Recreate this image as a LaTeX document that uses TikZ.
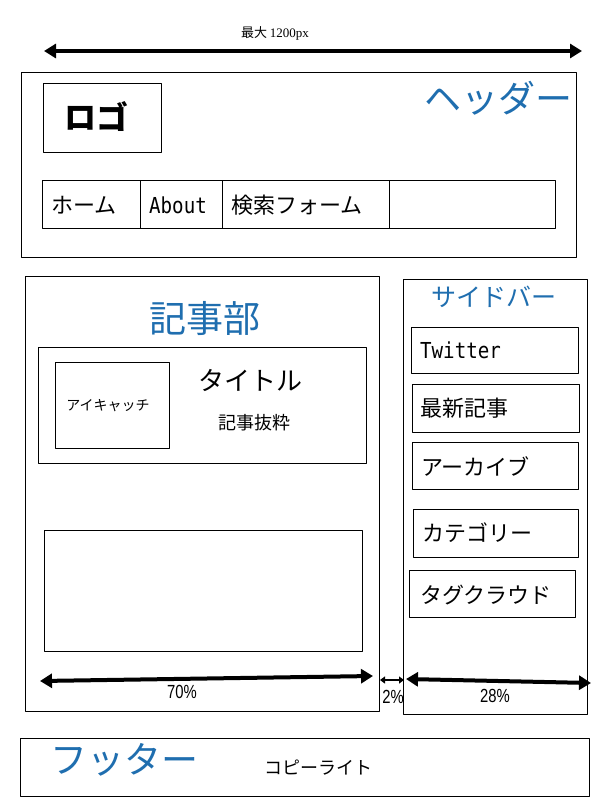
\documentclass[tikz,border=0pt]{standalone}
\usepackage{fontspec}
\setmainfont{Noto Sans CJK JP}
\newfontfamily\narrowmono[FakeStretch=0.87]{DejaVu Sans Mono}
\newfontfamily\pctfont[FakeStretch=0.78]{Liberation Sans}
\newfontfamily\serifnum{Liberation Serif}
\usetikzlibrary{arrows.meta}
\definecolor{titleblue}{HTML}{1F6EAF}
\tikzset{
  frame/.style={draw=black,line width=0.9pt},
  bigblue/.style={text=titleblue,font=\fontsize{37}{37}\selectfont,inner sep=0pt},
  navtext/.style={font=\fontsize{22}{22}\selectfont,inner sep=0pt,anchor=west},
  sidetext/.style={font=\fontsize{22}{22}\selectfont,inner sep=0pt,anchor=west},
  monotext/.style={font=\narrowmono\fontsize{22}{22}\selectfont},
  widthlabel/.style={font=\pctfont\fontsize{19}{19}\selectfont,inner sep=0pt},
  widearrow/.style={line width=4pt,{Triangle[length=12pt,width=14pt]}-{Triangle[length=12pt,width=14pt]}},
  smallarrow/.style={line width=2pt,{Triangle[length=5pt,width=7pt]}-{Triangle[length=5pt,width=7pt]}}
}
\begin{document}
\begin{tikzpicture}[x=1pt,y=-1pt,line join=round]
		\useasboundingbox (0,0) rectangle (609,809);
		\path
		%========khung ngoai
		(21,72) coordinate (hdA) (576,257) coordinate (hdB)
		(25,276) coordinate (artA) (379,711) coordinate (artB)
		(403,279) coordinate (sdA) (587,714) coordinate (sdB)
		(20,738) coordinate (ftA) (589,796) coordinate (ftB)
		%========header
		(43,83) coordinate (logoA) (161,152) coordinate (logoB)
		(42,180) coordinate (navA) (555,228) coordinate (navB)
		%========article
		(38,347) coordinate (cardA) (366,463) coordinate (cardB)
		(55,362) coordinate (eyeA) (169,448) coordinate (eyeB)
		(44,530) coordinate (bodyA) (362,651) coordinate (bodyB)
		%========sidebar
		(411,327) coordinate (twA) (578,373) coordinate (twB)
		(412,384) coordinate (newA) (579,432) coordinate (newB)
		(412,442) coordinate (arcA) (578,489) coordinate (arcB)
		(413,509) coordinate (catA) (578,557) coordinate (catB)
		(409,570) coordinate (tagA) (575,617) coordinate (tagB)
		%========mui ten
		(44,51) coordinate (maxL) (582,51) coordinate (maxR)
		(40,681) coordinate (mainL) (373,676) coordinate (mainR)
		(380,680) coordinate (gapL) (404,680) coordinate (gapR)
		(406,679) coordinate (sideL) (591,683) coordinate (sideR)
		;
		\draw[frame] (hdA) rectangle (hdB) (artA) rectangle (artB)
		(sdA) rectangle (sdB) (ftA) rectangle (ftB);
		\draw[frame] (logoA) rectangle (logoB) (navA) rectangle (navB)
		(140,180)--(140,228) (222,180)--(222,228) (389,180)--(389,228);
		\draw[frame] (cardA) rectangle (cardB) (eyeA) rectangle (eyeB)
		(bodyA) rectangle (bodyB);
		\draw[frame] (twA) rectangle (twB) (newA) rectangle (newB)
		(arcA) rectangle (arcB) (catA) rectangle (catB) (tagA) rectangle (tagB);
		%========chu
		\node[font=\fontsize{13}{13}\selectfont,inner sep=0pt] (maxlabel) at (275,33) {最大 {\serifnum 1200px}};
		\node[bigblue] (header) at (498,98) {ヘッダー};
		\node[font=\bfseries\fontsize{32}{32}\selectfont,inner sep=0pt] (logo) at (96,117) {ロゴ};
		\node[navtext] (home) at (51,205) {ホーム};
		\node[navtext,monotext] (about) at (149,205) {About};
		\node[navtext] (search) at (231,205) {検索フォーム};
		\node[bigblue] (article) at (205,318) {記事部};
		\node[font=\fontsize{14}{14}\selectfont,inner sep=0pt] (eyecatch) at (108,406) {アイキャッチ};
		\node[font=\fontsize{26}{26}\selectfont,inner sep=0pt] (title) at (250,380) {タイトル};
		\node[font=\fontsize{18}{18}\selectfont,inner sep=0pt] (excerpt) at (254,423) {記事抜粋};
		\node[text=titleblue,font=\fontsize{25}{25}\selectfont,inner sep=0pt] (sidebar) at (494,297) {サイドバー};
		\node[sidetext,monotext] (twitter) at (420,350) {Twitter};
		\node[sidetext] (recent) at (420,408) {最新記事};
		\node[sidetext] (archive) at (421,466) {アーカイブ};
		\node[sidetext] (category) at (422,533) {カテゴリー};
		\node[sidetext] (tagcloud) at (420,595) {タグクラウド};
		\node[bigblue,anchor=west] (footer) at (50,760) {フッター};
		\node[font=\fontsize{18}{18}\selectfont,inner sep=0pt] (copyright) at (318,768) {コピーライト};
		%========mui ten do rong
		\draw[widearrow] (maxL)--(maxR);
		\draw[widearrow] (mainL)--(mainR);
		\draw[smallarrow] (gapL)--(gapR);
		\draw[widearrow] (sideL)--(sideR);
		\node[widthlabel] (main70) at (182,692) {70\%};
		\node[widthlabel] (gap2) at (393,697) {2\%};
		\node[widthlabel] (side28) at (495,696) {28\%};
\end{tikzpicture}
\end{document}
